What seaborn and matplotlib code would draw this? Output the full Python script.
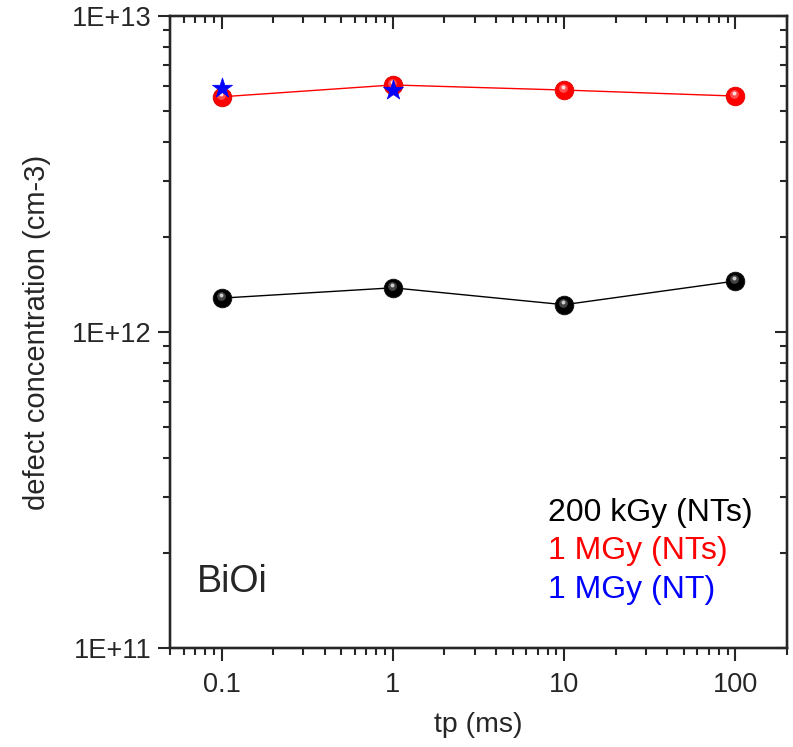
import matplotlib
matplotlib.use("Agg")
import matplotlib.pyplot as plt
import matplotlib.ticker as mticker
import matplotlib.transforms as mtransforms
import seaborn as sns
import pandas as pd
import numpy as np

# ---- data ----
tp_ms = [0.1, 1, 10, 100]
conc_200kGy_NTs = [1.28e12, 1.38e12, 1.22e12, 1.45e12]
conc_1MGy_NTs = [5.55e12, 6.05e12, 5.83e12, 5.58e12]
tp_ms_NT = [0.1, 1]
conc_1MGy_NT = [5.92e12, 5.83e12]

legend_labels = ["200 kGy (NTs)", "1 MGy (NTs)", "1 MGy (NT)"]
legend_colors = ["black", "red", "blue"]
x_ticks = [0.1, 1, 10, 100]
x_ticklabels = ["0.1", "1", "10", "100"]
y_ticks = [1e11, 1e12, 1e13]
y_ticklabels = ["1E+11", "1E+12", "1E+13"]

sns.set_style("ticks")
plt.rcParams['font.family'] = ['Liberation Sans', 'DejaVu Sans']

df_k = pd.DataFrame({"tp": tp_ms, "c": conc_200kGy_NTs})
df_r = pd.DataFrame({"tp": tp_ms, "c": conc_1MGy_NTs})
df_b = pd.DataFrame({"tp": tp_ms_NT, "c": conc_1MGy_NT})

fig = plt.figure(figsize=(7.93, 7.47), dpi=100)
ax = fig.add_axes([170/793, 1-648/747, (787-170)/793, (648-16)/747])

sns.lineplot(data=df_k, x="tp", y="c", ax=ax, color="black", lw=1.0, zorder=2)
sns.lineplot(data=df_r, x="tp", y="c", ax=ax, color="red", lw=1.0, zorder=2)
sns.scatterplot(data=df_k, x="tp", y="c", ax=ax, color="black", s=180,
                edgecolor="#111111", linewidth=0.6, zorder=3)
sns.scatterplot(data=df_r, x="tp", y="c", ax=ax, color="red", s=180,
                edgecolor="#e00000", linewidth=0.6, zorder=3)
# soft sphere-like highlights
hl = mtransforms.offset_copy(ax.transData, fig=fig, x=-1.0, y=2.0, units="dots")
ax.scatter(df_k["tp"], df_k["c"], s=40, color="#555555", linewidths=0,
           alpha=0.8, transform=hl, zorder=4)
ax.scatter(df_r["tp"], df_r["c"], s=40, color="#ff6060", linewidths=0,
           alpha=0.8, transform=hl, zorder=4)
hl2 = mtransforms.offset_copy(ax.transData, fig=fig, x=-1.0, y=3.0, units="dots")
ax.scatter(df_k["tp"], df_k["c"], s=8, color="#cccccc", linewidths=0,
           transform=hl2, zorder=4)
ax.scatter(df_r["tp"], df_r["c"], s=8, color="#ffdede", linewidths=0,
           transform=hl2, zorder=4)
sns.scatterplot(data=df_b, x="tp", y="c", ax=ax, color="blue", s=230,
                marker="*", edgecolor="blue", linewidth=0.5, zorder=5)

ax.set_xscale("log")
ax.set_yscale("log")
ax.set_xlim(0.05, 200)
ax.set_ylim(1e11, 1e13)

ax.xaxis.set_major_locator(mticker.FixedLocator(x_ticks))
ax.xaxis.set_major_formatter(mticker.FixedFormatter(x_ticklabels))
ax.yaxis.set_major_locator(mticker.FixedLocator(y_ticks))
ax.yaxis.set_major_formatter(mticker.FixedFormatter(y_ticklabels))
ax.xaxis.set_minor_locator(mticker.LogLocator(base=10, subs=np.arange(2, 10)))
ax.yaxis.set_minor_locator(mticker.LogLocator(base=10, subs=np.arange(2, 10)))
ax.xaxis.set_minor_formatter(mticker.NullFormatter())
ax.yaxis.set_minor_formatter(mticker.NullFormatter())

ax.tick_params(which="major", direction="out", length=9, width=1.5,
               labelsize=19.5)
ax.tick_params(axis="x", which="major", pad=8)
ax.tick_params(axis="y", which="major", pad=4)
ax.tick_params(which="minor", direction="out", length=5, width=1.5)
for sp in ax.spines.values():
    sp.set_linewidth(1.6)
    sp.set_visible(True)

# mirrored inward ticks on top and right
axt = ax.twiny()
axt.set_xscale("log")
axt.set_xlim(ax.get_xlim())
axt.xaxis.set_major_locator(mticker.FixedLocator(x_ticks))
axt.xaxis.set_minor_locator(mticker.LogLocator(base=10, subs=np.arange(2, 10)))
axt.tick_params(which="both", direction="in", labeltop=False, width=1.5)
axt.tick_params(which="major", length=9)
axt.tick_params(which="minor", length=5)
axr = ax.twinx()
axr.set_yscale("log")
axr.set_ylim(ax.get_ylim())
axr.yaxis.set_major_locator(mticker.FixedLocator(y_ticks))
axr.yaxis.set_minor_locator(mticker.LogLocator(base=10, subs=np.arange(2, 10)))
axr.tick_params(which="both", direction="in", labelright=False, width=1.5)
axr.tick_params(which="major", length=9)
axr.tick_params(which="minor", length=5)
for a in (axt, axr):
    for sp in a.spines.values():
        sp.set_linewidth(1.6)

ax.set_xlabel("tp (ms)", fontsize=20.5, labelpad=10)
ax.set_ylabel("defect concentration (cm-3)", fontsize=21, labelpad=15)

ax.text(0.044, 0.104, "BiOi", transform=ax.transAxes, fontsize=27,
        ha="left", va="center")
ypos = [0.2136, 0.1535, 0.0918]
for lab, col, yy in zip(legend_labels, legend_colors, ypos):
    ax.text(0.613, yy, lab, transform=ax.transAxes,
            fontsize=23, color=col, ha="left", va="center")

fig.savefig("out.png", dpi=100)
